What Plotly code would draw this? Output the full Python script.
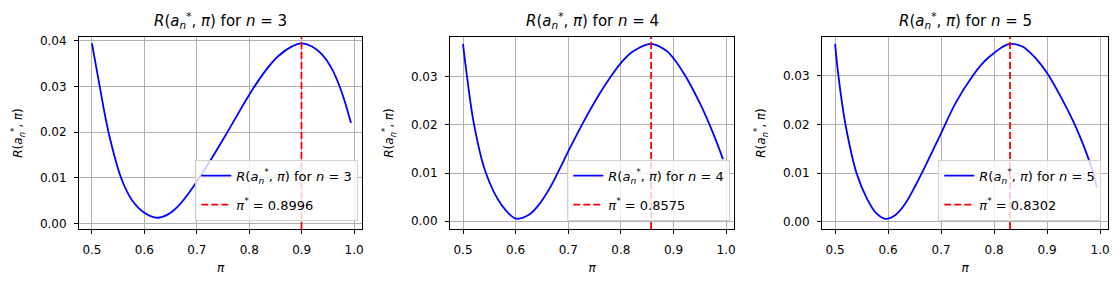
import plotly.graph_objects as go

# ---------------- data ----------------
n_values = [3, 4, 5]
pi_star = [0.8996, 0.8575, 0.8302]

pi_n3 = [0.5, 0.5148, 0.5316, 0.5557, 0.5761, 0.6, 0.624, 0.6459, 0.665, 0.6872, 0.7,
         0.7284, 0.7602, 0.8, 0.83, 0.855, 0.8807, 0.8996, 0.9188, 0.9378, 0.9569, 0.9759, 0.994]
R_n3 = [0.0394, 0.0300, 0.0200, 0.0100, 0.0052, 0.0024, 0.0013, 0.0021, 0.0039, 0.0071, 0.0092,
        0.0143, 0.0204, 0.0282, 0.0333, 0.0366, 0.0387, 0.0394, 0.0388, 0.0371, 0.0340, 0.0289, 0.0220]

pi_n4 = [0.5, 0.5075, 0.5208, 0.5428, 0.573, 0.6013, 0.6266, 0.6456, 0.6646, 0.6835, 0.7, 0.7278,
         0.7595, 0.7816, 0.8, 0.8228, 0.8575, 0.886, 0.9, 0.921, 0.9494, 0.9665, 0.98, 0.994]
R_n4 = [0.0369, 0.0302, 0.0202, 0.0102, 0.0034, 0.0005, 0.0014, 0.0036, 0.0068, 0.0108, 0.0145, 0.0204,
        0.0265, 0.0302, 0.0329, 0.0353, 0.0369, 0.0355, 0.0339, 0.0305, 0.0247, 0.0206, 0.0170, 0.0129]

pi_n5 = [0.5, 0.5063, 0.5196, 0.5405, 0.5608, 0.578, 0.5956, 0.6139, 0.6329, 0.6519, 0.6709, 0.7, 0.7278,
         0.7595, 0.78, 0.8, 0.815, 0.8302, 0.8544, 0.867, 0.8797, 0.9, 0.925, 0.9506, 0.9684, 0.9856, 0.994]
R_n5 = [0.0366, 0.0300, 0.0200, 0.0100, 0.0046, 0.0017, 0.0006, 0.0014, 0.0038, 0.0075, 0.0116, 0.0182, 0.0245,
        0.0300, 0.0328, 0.0347, 0.0359, 0.0366, 0.0360, 0.0349, 0.0335, 0.0306, 0.0259, 0.0204, 0.0158, 0.0105, 0.0071]

x_ticks = [0.5, 0.6, 0.7, 0.8, 0.9, 1.0]
y_ticks_list = [[0.00, 0.01, 0.02, 0.03, 0.04], [0.00, 0.01, 0.02, 0.03], [0.00, 0.01, 0.02, 0.03]]
x_range = [0.4753, 1.0150]
y_ranges = [[-0.00116, 0.04081], [-0.00166, 0.03832], [-0.0015, 0.03801]]

series_pi = [pi_n3, pi_n4, pi_n5]
series_R = [R_n3, R_n4, R_n5]

# ---------------- layout geometry ----------------
W, H = 1118, 281
ML, MR, MT, MB = 79, 10, 37, 52
PW = W - ML - MR
panel_px = [(79, 362), (450, 734), (822, 1108)]
legend_right_px = [358.3, 730.3, 1101.3]

FONT = "DejaVu Sans"
R_LABEL = "<i>R</i>(<i>a</i><sub><i>n</i></sub><sup>*</sup>, <i>π</i>)"

fig = go.Figure()
layout = dict(
    width=W, height=H,
    margin=dict(l=ML, r=MR, t=MT, b=MB),
    paper_bgcolor="white", plot_bgcolor="white",
    font=dict(family=FONT, size=12, color="black"),
    showlegend=True,
)

annotations = []
for i, (n, ps, xs, ys) in enumerate(zip(n_values, pi_star, series_pi, series_R)):
    k = "" if i == 0 else str(i + 1)
    xa, ya = "x" + k, "y" + k
    leg = "legend" + k
    fig.add_trace(go.Scatter(
        x=xs, y=ys, mode="lines", xaxis=xa, yaxis=ya,
        line=dict(color="blue", width=1.8, shape="spline", smoothing=1.0),
        name=f"{R_LABEL} for <i>n</i> = {n}", legend=leg, legendgroup=f"c{i}",
    ))
    yr = y_ranges[i]
    fig.add_trace(go.Scatter(
        x=[ps, ps], y=[yr[0], yr[1]], mode="lines", xaxis=xa, yaxis=ya,
        line=dict(color="red", width=1.8, dash="7px,3px"),
        name=f"<i>π</i><sup>*</sup> = {ps:.4f}", legend=leg, legendgroup=f"p{i}",
    ))
    x0 = (panel_px[i][0] - ML) / PW
    x1 = (panel_px[i][1] - ML) / PW
    common = dict(showline=True, mirror=True, linecolor="black", linewidth=1,
                  showgrid=True, gridcolor="#b0b0b0", gridwidth=1,
                  ticks="outside", ticklen=4, tickwidth=1, tickcolor="black",
                  zeroline=False, automargin=False,
                  tickfont=dict(family=FONT, size=12, color="black"))
    layout["xaxis" + k] = dict(domain=[x0, x1], range=x_range, tickvals=x_ticks,
                               ticktext=[f"{v:.1f}" for v in x_ticks], anchor=ya,
                               ticklabelstandoff=6,
                               title=dict(text="<i>π</i>", standoff=7,
                                          font=dict(family=FONT, size=12)),
                               **common)
    layout["yaxis" + k] = dict(domain=[0, 1], range=yr, tickvals=y_ticks_list[i],
                               ticktext=[f"{v:.2f}" for v in y_ticks_list[i]], anchor=xa,
                               ticklabelstandoff=5,
                               title=dict(text=R_LABEL, standoff=14,
                                          font=dict(family=FONT, size=12)),
                               **common)
    layout[leg] = dict(
        x=(legend_right_px[i] - ML) / PW, y=0.043, xanchor="right", yanchor="bottom",
        xref="paper", yref="paper",
        bgcolor="rgba(255,255,255,0.8)", bordercolor="#d0d0d0", borderwidth=1,
        font=dict(family=FONT, size=13, color="black"),
        tracegroupgap=9, itemwidth=30,
    )
    annotations.append(dict(
        text=f"{R_LABEL} for <i>n</i> = {n}", x=(x0 + x1) / 2, y=1, xref="paper", yref="paper",
        xanchor="center", yanchor="bottom", yshift=4, showarrow=False,
        font=dict(family=FONT, size=15, color="black"),
    ))

layout["annotations"] = annotations
fig.update_layout(**layout)
fig.write_html("out.html", config={"displayModeBar": False},
               post_script="document.body.style.margin='0';")
